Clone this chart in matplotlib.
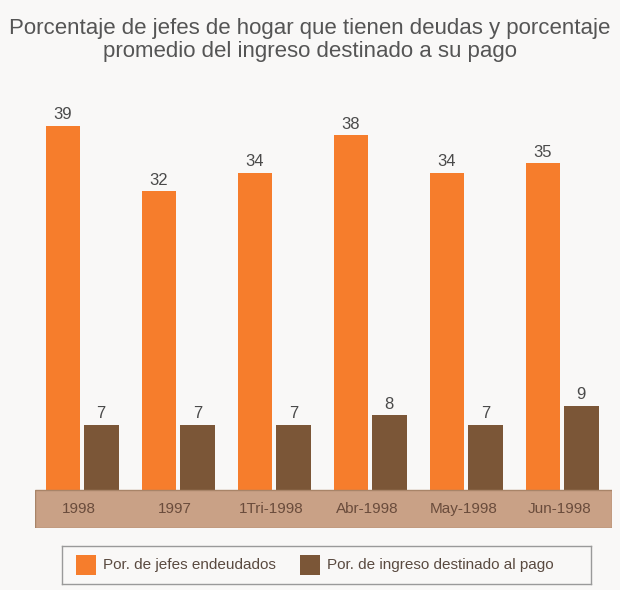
import matplotlib
matplotlib.use("Agg")
import matplotlib.pyplot as plt
import numpy as np
from matplotlib.patches import Rectangle

categories = ["1998", "1997", "1Tri-1998", "Abr-1998", "May-1998", "Jun-1998"]
jefes_endeudados = [39, 32, 34, 38, 34, 35]
ingreso_destinado = [7, 7, 7, 8, 7, 9]
series_names = ["Por. de jefes endeudados", "Por. de ingreso destinado al pago"]
title = "Porcentaje de jefes de hogar que tienen deudas y porcentaje\npromedio del ingreso destinado a su pago"

W, H = 620, 590
fig = plt.figure(figsize=(W / 100, H / 100), dpi=100)
bg = "#f9f8f7"
fig.patch.set_facecolor(bg)

orange = "#f67d2c"
brown = "#7b5637"
band_col = "#c9a186"

# axes: x 35..612 px, y 528 (bottom of band) .. 100 px
left, right = 35 / W, 612 / W
bottom, top = 1 - 528 / H, 1 - 100 / H
ax = fig.add_axes([left, bottom, right - left, top - bottom])
ax.set_facecolor("none")
scale = 9.33  # px per unit
band_units = (528 - 490) / scale
ax.set_ylim(-band_units, (528 - 100) / scale - band_units)
ax.set_xlim(-0.49, 5.52)

x = np.arange(len(categories))
w = 0.36
off = 0.2
ax.bar(x - off, jefes_endeudados, width=w, color=orange, zorder=2)
ax.bar(x + off, ingreso_destinado, width=w, color=brown, zorder=2)

lab_font = ["Liberation Sans Narrow", "Liberation Sans", "DejaVu Sans"]
for xi, v in zip(x - off, jefes_endeudados):
    ax.text(xi, v + 0.4, str(v), ha="center", va="bottom", fontsize=12,
            color="#4a4a4a", family=lab_font)
for xi, v in zip(x + off, ingreso_destinado):
    ax.text(xi, v + 0.4, str(v), ha="center", va="bottom", fontsize=12,
            color="#4a4a4a", family=lab_font)

# band
ax.add_patch(Rectangle((-0.49, -band_units), 6.01, band_units, facecolor=band_col,
                       edgecolor="#a88468", lw=1.0, zorder=3))
for xi, c in zip(x, categories):
    ax.text(xi - 0.03, -band_units / 2, c, ha="center", va="center", fontsize=11,
            color="#6a4c3c", family=lab_font, zorder=4)

for s in ax.spines.values():
    s.set_visible(False)
ax.set_xticks([])
ax.set_yticks([])

fig.text(0.5, 1 - 40 / H, title, ha="center", va="center", fontsize=16,
         color="#555555", family=lab_font, linespacing=1.15)

# legend
lx0, lx1 = 62, 591
lax = fig.add_axes([lx0 / W, 1 - 584 / H, (lx1 - lx0) / W, 38 / H])
lax.set_xlim(lx0, lx1)
lax.set_ylim(0, 38)
lax.set_facecolor(bg)
for s in lax.spines.values():
    s.set_color("#9a9a9a")
    s.set_linewidth(1)
lax.set_xticks([])
lax.set_yticks([])
lax.add_patch(Rectangle((76, 9), 20, 20, facecolor=orange, edgecolor="none"))
lax.text(103, 19, series_names[0], ha="left", va="center", fontsize=11,
         color="#5a4a40", family=lab_font)
lax.add_patch(Rectangle((300, 9), 20, 20, facecolor=brown, edgecolor="none"))
lax.text(327, 19, series_names[1], ha="left", va="center", fontsize=11,
         color="#5a4a40", family=lab_font)

fig.savefig("out.png", dpi=100, facecolor=bg)
